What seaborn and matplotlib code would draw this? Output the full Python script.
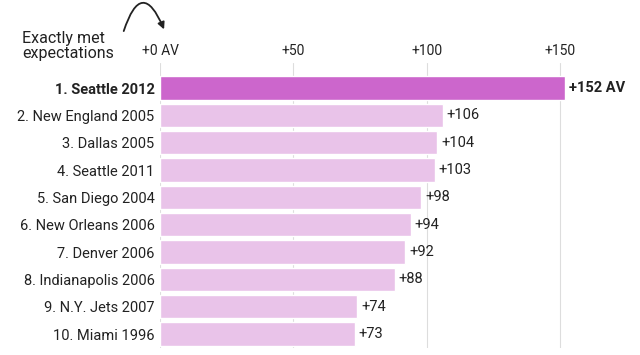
import matplotlib.pyplot as plt
import seaborn as sns
import pandas as pd

# --- Teams that most exceeded expected approximate value ---
teams = ["1. Seattle 2012", "2. New England 2005", "3. Dallas 2005",
         "4. Seattle 2011", "5. San Diego 2004", "6. New Orleans 2006",
         "7. Denver 2006", "8. Indianapolis 2006", "9. N.Y. Jets 2007",
         "10. Miami 1996"]
av_over = [152, 106, 104, 103, 98, 94, 92, 88, 74, 73]
tick_vals = [0, 50, 100, 150]
tick_labels = ["+0 AV", "+50", "+100", "+150"]

df = pd.DataFrame({"team": teams, "av": av_over})
colors = ["#CC66CC"] + ["#E9C3E9"] * (len(teams) - 1)

sns.set_style("white")
plt.rcParams["font.family"] = ["Roboto", "DejaVu Sans"]

fig = plt.figure(figsize=(6.4, 3.55), dpi=100)
ax = fig.add_axes([0.25, 0.0206, 0.75, 0.8008])

for x in tick_vals:
    ax.axvline(x, color="#dddddd", lw=0.8, zorder=0)

sns.barplot(data=df, x="av", y="team", hue="team", palette=colors,
            saturation=1, legend=False, width=0.86, ax=ax, zorder=2)

ax.set_xlim(0, 180)
ax.set_ylim(9.5, -0.9)
ax.set_xticks(tick_vals)
ax.set_xticklabels(tick_labels, fontsize=10, color="#222222")
ax.xaxis.tick_top()
ax.tick_params(axis="x", length=0, pad=4)
ax.tick_params(axis="y", length=0, pad=4)
ax.set_xlabel("")
ax.set_ylabel("")
for lbl in ax.get_yticklabels():
    lbl.set_fontsize(10.5)
    lbl.set_color("#222222")
ax.get_yticklabels()[0].set_fontweight("bold")
sns.despine(ax=ax, left=True, bottom=True, top=True, right=True)

# value labels
for i, v in enumerate(av_over):
    if i == 0:
        ax.text(v + 1.5, i, f"+{v} AV", va="center", ha="left",
                fontsize=10.5, fontweight="bold", color="#222222")
    else:
        ax.text(v + 1.5, i, f"+{v}", va="center", ha="left",
                fontsize=10.5, color="#222222")

# handwritten-ish note
fig.text(0.034, 0.87, "Exactly met\nexpectations", fontsize=11.5,
         color="#222222", va="center", ha="left", linespacing=1.05)
ax.annotate("", xy=(0.258, 0.91), xycoords="figure fraction",
            xytext=(0.192, 0.905), textcoords="figure fraction",
            arrowprops=dict(arrowstyle="-|>", color="#222222", lw=1.3,
                            mutation_scale=10,
                            connectionstyle="arc3,rad=-1.4"))

plt.savefig("out.png", dpi=100)
